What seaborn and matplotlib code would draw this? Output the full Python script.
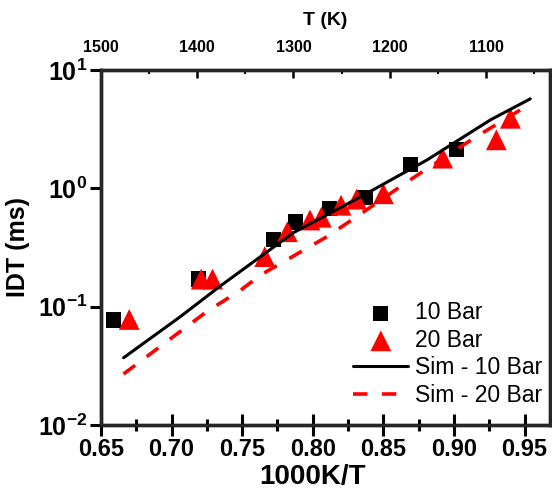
import numpy as np
import pandas as pd
import matplotlib
matplotlib.use("Agg")
import matplotlib.pyplot as plt
import seaborn as sns
from matplotlib.ticker import FixedLocator, FuncFormatter, NullLocator

# ---------------- data ----------------
bar10_x = [0.659, 0.719, 0.772, 0.788, 0.812, 0.837, 0.869, 0.902]
bar10_y = [0.077, 0.171, 0.367, 0.52, 0.68, 0.84, 1.58, 2.14]

bar20_x = [0.670, 0.721, 0.729, 0.766, 0.782, 0.798, 0.806, 0.820, 0.831, 0.850, 0.892, 0.930, 0.940]
bar20_y = [0.078, 0.171, 0.171, 0.265, 0.43, 0.54, 0.57, 0.72, 0.81, 0.90, 1.80, 2.57, 3.91]

sim10_x = [0.666, 0.706, 0.734, 0.786, 0.834, 0.881, 0.926, 0.954]
sim10_y = [0.037, 0.082, 0.148, 0.42, 0.85, 1.74, 3.80, 5.70]

sim20_x = [0.666, 0.725, 0.749, 0.763, 0.810, 0.835, 0.869, 0.914, 0.952]
sim20_y = [0.027, 0.091, 0.138, 0.185, 0.39, 0.62, 1.18, 2.65, 5.00]

x_ticks = [0.65, 0.70, 0.75, 0.80, 0.85, 0.90, 0.95]
y_ticks = [1e-2, 1e-1, 1e0, 1e1]
t_ticks = [1500, 1400, 1300, 1200, 1100]
t_minor = [1450, 1350, 1250, 1150, 1050]

labels = ["10 Bar", "20 Bar", "Sim - 10 Bar", "Sim - 20 Bar"]

# ---------------- style ----------------
sns.set_theme(style="white")
plt.rcParams["font.family"] = ["Liberation Sans", "DejaVu Sans"]
plt.rcParams["font.weight"] = "bold"
plt.rcParams["text.color"] = "black"
plt.rcParams["axes.labelcolor"] = "black"
plt.rcParams["xtick.color"] = "black"
plt.rcParams["ytick.color"] = "black"
plt.rcParams["mathtext.fontset"] = "custom"
plt.rcParams["mathtext.rm"] = "Liberation Sans:bold"
plt.rcParams["mathtext.bf"] = "Liberation Sans:bold"
plt.rcParams["mathtext.it"] = "Liberation Sans:bold"

pts10 = pd.DataFrame({"x": bar10_x, "y": bar10_y, "s": labels[0]})
pts20 = pd.DataFrame({"x": bar20_x, "y": bar20_y, "s": labels[1]})
sim10 = pd.DataFrame({"x": sim10_x, "y": sim10_y, "s": labels[2]})
sim20 = pd.DataFrame({"x": sim20_x, "y": sim20_y, "s": labels[3]})

fig = plt.figure(figsize=(5.52, 4.99), dpi=100)
ax = fig.add_axes([101/552, 1-425/499, (550-101)/552, (425-70)/499])

sns.scatterplot(data=pts10, x="x", y="y", marker="s", s=11**2, color="black",
                edgecolor="none", linewidth=0, ax=ax, label=labels[0], zorder=3)
sns.scatterplot(data=pts20, x="x", y="y", marker="^", s=15**2, color="#ff0000",
                edgecolor="none", linewidth=0, ax=ax, label=labels[1], zorder=4)
sns.lineplot(data=sim10, x="x", y="y", color="black", linewidth=2.2, sort=False,
             estimator=None, ax=ax, label=labels[2], zorder=5)
sns.lineplot(data=sim20, x="x", y="y", color="#ff0000", linewidth=2.6, sort=False,
             estimator=None, ax=ax, label=labels[3], zorder=5, dashes=False)
ax.lines[-1].set_dashes([4, 4])

ax.set_yscale("log")
ax.set_xlim(0.65, 0.968)
ax.set_ylim(1e-2, 1e1)

ax.xaxis.set_major_locator(FixedLocator(x_ticks))
ax.xaxis.set_minor_locator(FixedLocator([v + 0.025 for v in x_ticks]))
ax.xaxis.set_major_formatter(FuncFormatter(lambda v, p: f"{v:.2f}"))
ax.yaxis.set_major_locator(FixedLocator(y_ticks))
ax.yaxis.set_minor_locator(NullLocator())
ax.yaxis.set_major_formatter(FuncFormatter(lambda v, p: r"$\mathbf{10^{%d}}$" % int(round(np.log10(v)))))

for sp in ax.spines.values():
    sp.set_linewidth(2.4)
    sp.set_color("black")

ax.tick_params(axis="x", which="major", direction="inout", length=16, width=2.2,
               labelsize=17, pad=1, colors="black", bottom=True)
ax.tick_params(axis="x", which="minor", direction="inout", length=8, width=2.2, bottom=True)
ax.tick_params(axis="y", which="major", direction="out", length=8, width=2.2,
               labelsize=18, pad=2, colors="black", left=True)
for lab in ax.get_xticklabels() + ax.get_yticklabels():
    lab.set_fontweight("bold")

ax.set_xlabel("1000K/T", fontsize=20, fontweight="bold")
ax.xaxis.set_label_coords(0.471, -0.11)
ax.set_ylabel("IDT (ms)", fontsize=18, fontweight="bold")
ax.yaxis.set_label_coords(-0.158, 0.5)

# top temperature axis
ax2 = ax.twiny()
ax2.set_xlim(1500, 1033.5)
ax2.xaxis.set_major_locator(FixedLocator(t_ticks))
ax2.xaxis.set_minor_locator(FixedLocator(t_minor))
ax2.tick_params(axis="x", which="major", direction="in", length=6, width=1.8,
                labelsize=11.5, pad=11, colors="black", top=True)
ax2.tick_params(axis="x", which="minor", direction="in", length=3, width=1.5, top=True)
for lab in ax2.get_xticklabels():
    lab.set_fontweight("bold")
ax2.set_xlabel("T (K)", fontsize=14, fontweight="bold")
ax2.xaxis.set_label_coords(0.5, 1.127)
for sp in ax2.spines.values():
    sp.set_linewidth(2.4)

# legend
handles, labs = ax.get_legend_handles_labels()
leg = ax.legend(handles, labs, loc="lower right", bbox_to_anchor=(542/552, 1-407/499),
                bbox_transform=fig.transFigure, frameon=False, fontsize=16.5,
                handlelength=2.4, handletextpad=0.28, labelspacing=0.2,
                borderaxespad=0, borderpad=0)
for t in leg.get_texts():
    t.set_fontweight("normal")

fig.savefig("out.png", dpi=100, facecolor="white")
